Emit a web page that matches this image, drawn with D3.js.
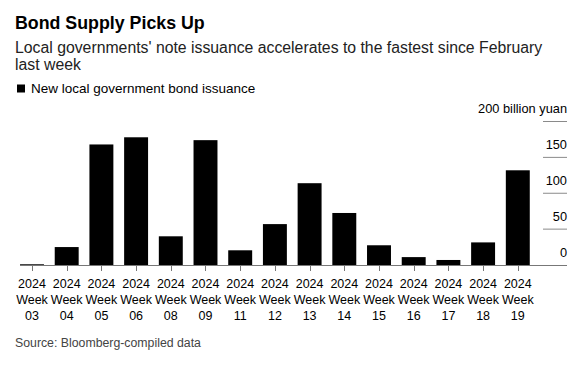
<!DOCTYPE html>
<html>
<head>
<meta charset="utf-8">
<script src="https://d3js.org/d3.v7.min.js"></script>
<style>
    body { margin: 0; background: #fff; }
    svg text { font-family: 'Liberation Sans', Arial, Helvetica, sans-serif; fill: #000; }
    .title { font-size: 17.8px; font-weight: bold; }
    .subtitle { font-size: 15.8px; fill: #222; }
    .legend { font-size: 13.5px; }
    .ytick { font-size: 12.8px; }
    .xtick { font-size: 12.5px; }
    .source { font-size: 12.3px; fill: #444; }
</style>
</head>
<body>
<div id="chart"></div>
<script>
var weeks = ['03', '04', '05', '06', '08', '09', '11', '12', '13', '14', '15', '16', '17', '18', '19'];
var issuance = [1, 25, 168, 178, 40, 174, 20.5, 57, 114, 72.5, 27.5, 11, 7, 31.5, 132];
var yTicks = [0, 50, 100, 150, 200];

var W = 584, H = 373;
var BASE_Y = 265, TOP_Y = 121.5;
var PLOT_LEFT = 14.65, PLOT_RIGHT = 535.15;
var GRID_X0 = 543, GRID_X1 = 567;

var svg = d3.select('#chart').append('svg')
    .attr('width', W)
    .attr('height', H);

// titles
svg.append('text').attr('class', 'title').attr('x', 15).attr('y', 29.3).text('Bond Supply Picks Up');
svg.append('text').attr('class', 'subtitle').attr('x', 15).attr('y', 52.6)
    .text("Local governments' note issuance accelerates to the fastest since February");
svg.append('text').attr('class', 'subtitle').attr('x', 15).attr('y', 70.3).text('last week');

// legend
svg.append('rect').attr('x', 17).attr('y', 84.5).attr('width', 8).attr('height', 8).attr('fill', '#000');
svg.append('text').attr('class', 'legend').attr('x', 31).attr('y', 93.3).text('New local government bond issuance');

var x = d3.scaleBand()
    .domain(weeks)
    .range([PLOT_LEFT, PLOT_RIGHT])
    .paddingInner(0.31)
    .paddingOuter(0.155);

var y = d3.scaleLinear()
    .domain([0, 200])
    .range([BASE_Y, TOP_Y]);

// gridlines and y labels sit on the right
svg.selectAll('line.grid')
    .data(yTicks.filter(function(d) { return d > 0; }))
    .enter()
    .append('line')
    .attr('class', 'grid')
    .attr('x1', GRID_X0).attr('x2', GRID_X1)
    .attr('y1', function(d) { return y(d); })
    .attr('y2', function(d) { return y(d); })
    .attr('stroke', '#8a8a8a');

svg.selectAll('text.ytick')
    .data(yTicks)
    .enter()
    .append('text')
    .attr('class', 'ytick')
    .attr('text-anchor', 'end')
    .attr('x', GRID_X1)
    .attr('y', function(d) { return y(d) - 8.5; })
    .text(function(d) { return d === 200 ? '200 billion yuan' : d; });

// bars
svg.selectAll('rect.bar')
    .data(issuance)
    .enter()
    .append('rect')
    .attr('class', 'bar')
    .attr('x', function(d, i) { return x(weeks[i]); })
    .attr('width', x.bandwidth())
    .attr('y', function(d) { return y(d); })
    .attr('height', function(d) { return BASE_Y - y(d); })
    .attr('fill', '#000');

// baseline
svg.append('line')
    .attr('x1', 20).attr('x2', GRID_X1)
    .attr('y1', BASE_Y + 0.5).attr('y2', BASE_Y + 0.5)
    .attr('stroke', '#777');

// x ticks + three-line labels
svg.selectAll('line.xtick')
    .data(weeks)
    .enter()
    .append('line')
    .attr('x1', function(d) { return Math.round(x(d) + x.bandwidth() / 2) + 0.5; })
    .attr('x2', function(d) { return Math.round(x(d) + x.bandwidth() / 2) + 0.5; })
    .attr('y1', BASE_Y + 1).attr('y2', BASE_Y + 6)
    .attr('stroke', '#777');

var xl = svg.selectAll('text.xtick')
    .data(weeks)
    .enter()
    .append('text')
    .attr('class', 'xtick')
    .attr('text-anchor', 'middle');

['2024', 'Week', null].forEach(function(line, k) {
    xl.append('tspan')
        .attr('x', function(d) { return x(d) + x.bandwidth() / 2; })
        .attr('y', 288.3 + k * 15.9)
        .text(function(d) { return line === null ? d : line; });
});

svg.append('text').attr('class', 'source').attr('x', 15).attr('y', 347).text('Source: Bloomberg-compiled data');
</script>
</body>
</html>
